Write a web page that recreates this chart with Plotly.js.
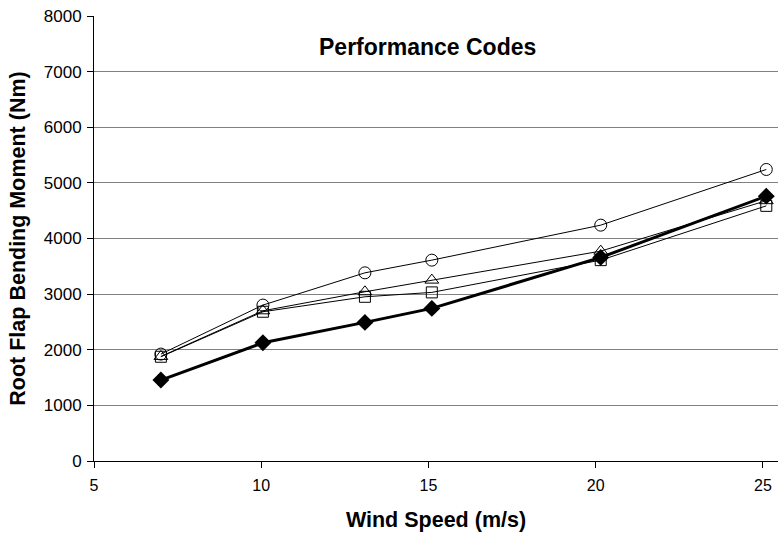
<!DOCTYPE html>
<html>
<head>
<meta charset="utf-8">
<script src="https://cdn.plot.ly/plotly-3.0.1.min.js"></script>
<style>
html,body{margin:0;padding:0;background:#fff;}
#chart{width:778px;height:534px;}
</style>
</head>
<body>
<div id="chart"></div>
<script>
// Data
const windSpeed = [7, 10.05, 13.1, 15.1, 20.15, 25.1];
const measured  = [1455, 2125, 2492, 2743, 3660, 4761];
const codeCircle   = [1922, 2803, 3383, 3611, 4240, 5241];
const codeTriangle = [1880, 2700, 3042, 3252, 3773, 4680];
const codeSquare   = [1874, 2683, 2952, 3031, 3611, 4587];
const yTicks = [0, 1000, 2000, 3000, 4000, 5000, 6000, 7000, 8000];
const xTicks = [5, 10, 15, 20, 25];

const FONT = "Arial, 'Liberation Sans', sans-serif";

function openSeries(name, y, symbol, size) {
  return {
    name: name, x: windSpeed, y: y, type: 'scatter', mode: 'lines+markers',
    line: {color: '#000', width: 1},
    marker: {symbol: symbol, size: size, color: '#000', line: {color: '#000', width: 1}},
    cliponaxis: false
  };
}

const traces = [
  openSeries('Code (circle)', codeCircle, 'circle-open', 12),
  openSeries('Code (triangle)', codeTriangle, 'triangle-up-open', 12),
  openSeries('Code (square)', codeSquare, 'square-open', 11),
  {
    name: 'Measured', x: windSpeed, y: measured, type: 'scatter', mode: 'lines+markers',
    line: {color: '#000', width: 3},
    marker: {symbol: 'diamond', size: 13, color: '#000'},
    cliponaxis: false
  }
];

const layout = {
  width: 778, height: 534,
  margin: {l: 94, r: 0, t: 16, b: 73, pad: 0},
  paper_bgcolor: '#fff', plot_bgcolor: '#fff',
  showlegend: false,
  font: {family: FONT, color: '#000', size: 16},
  xaxis: {
    range: [5, 25.45], tickvals: xTicks, ticktext: xTicks.map(String),
    showgrid: false, zeroline: false,
    showline: true, linecolor: '#000', linewidth: 1,
    ticks: 'outside', ticklen: 6, tickcolor: '#000', tickwidth: 1,
    ticklabelstandoff: 4,
    tickfont: {family: FONT, size: 16, color: '#000'},
    title: {text: '<b>Wind Speed (m/s)</b>', font: {family: FONT, size: 21.5, color: '#000'}, standoff: 18}
  },
  yaxis: {
    range: [0, 8000], tickvals: yTicks, ticktext: yTicks.map(String),
    showgrid: true, gridcolor: '#808080', gridwidth: 1, zeroline: false,
    showline: true, linecolor: '#000', linewidth: 1,
    ticks: 'outside', ticklen: 6, tickcolor: '#000', tickwidth: 1,
    ticklabelstandoff: 2,
    tickfont: {family: FONT, size: 17, color: '#000'},
    title: {text: '<b>Root Flap Bending Moment (Nm)</b>', font: {family: FONT, size: 21.5, color: '#000'}, standoff: 12}
  },
  annotations: [{
    text: '<b>Performance Codes</b>', xref: 'paper', yref: 'paper',
    x: 0.487, y: 0.93, xanchor: 'center', yanchor: 'middle', showarrow: false,
    font: {family: FONT, size: 23, color: '#000'}
  }]
};

Plotly.newPlot('chart', traces, layout, {displayModeBar: false, staticPlot: true});
</script>
</body>
</html>
